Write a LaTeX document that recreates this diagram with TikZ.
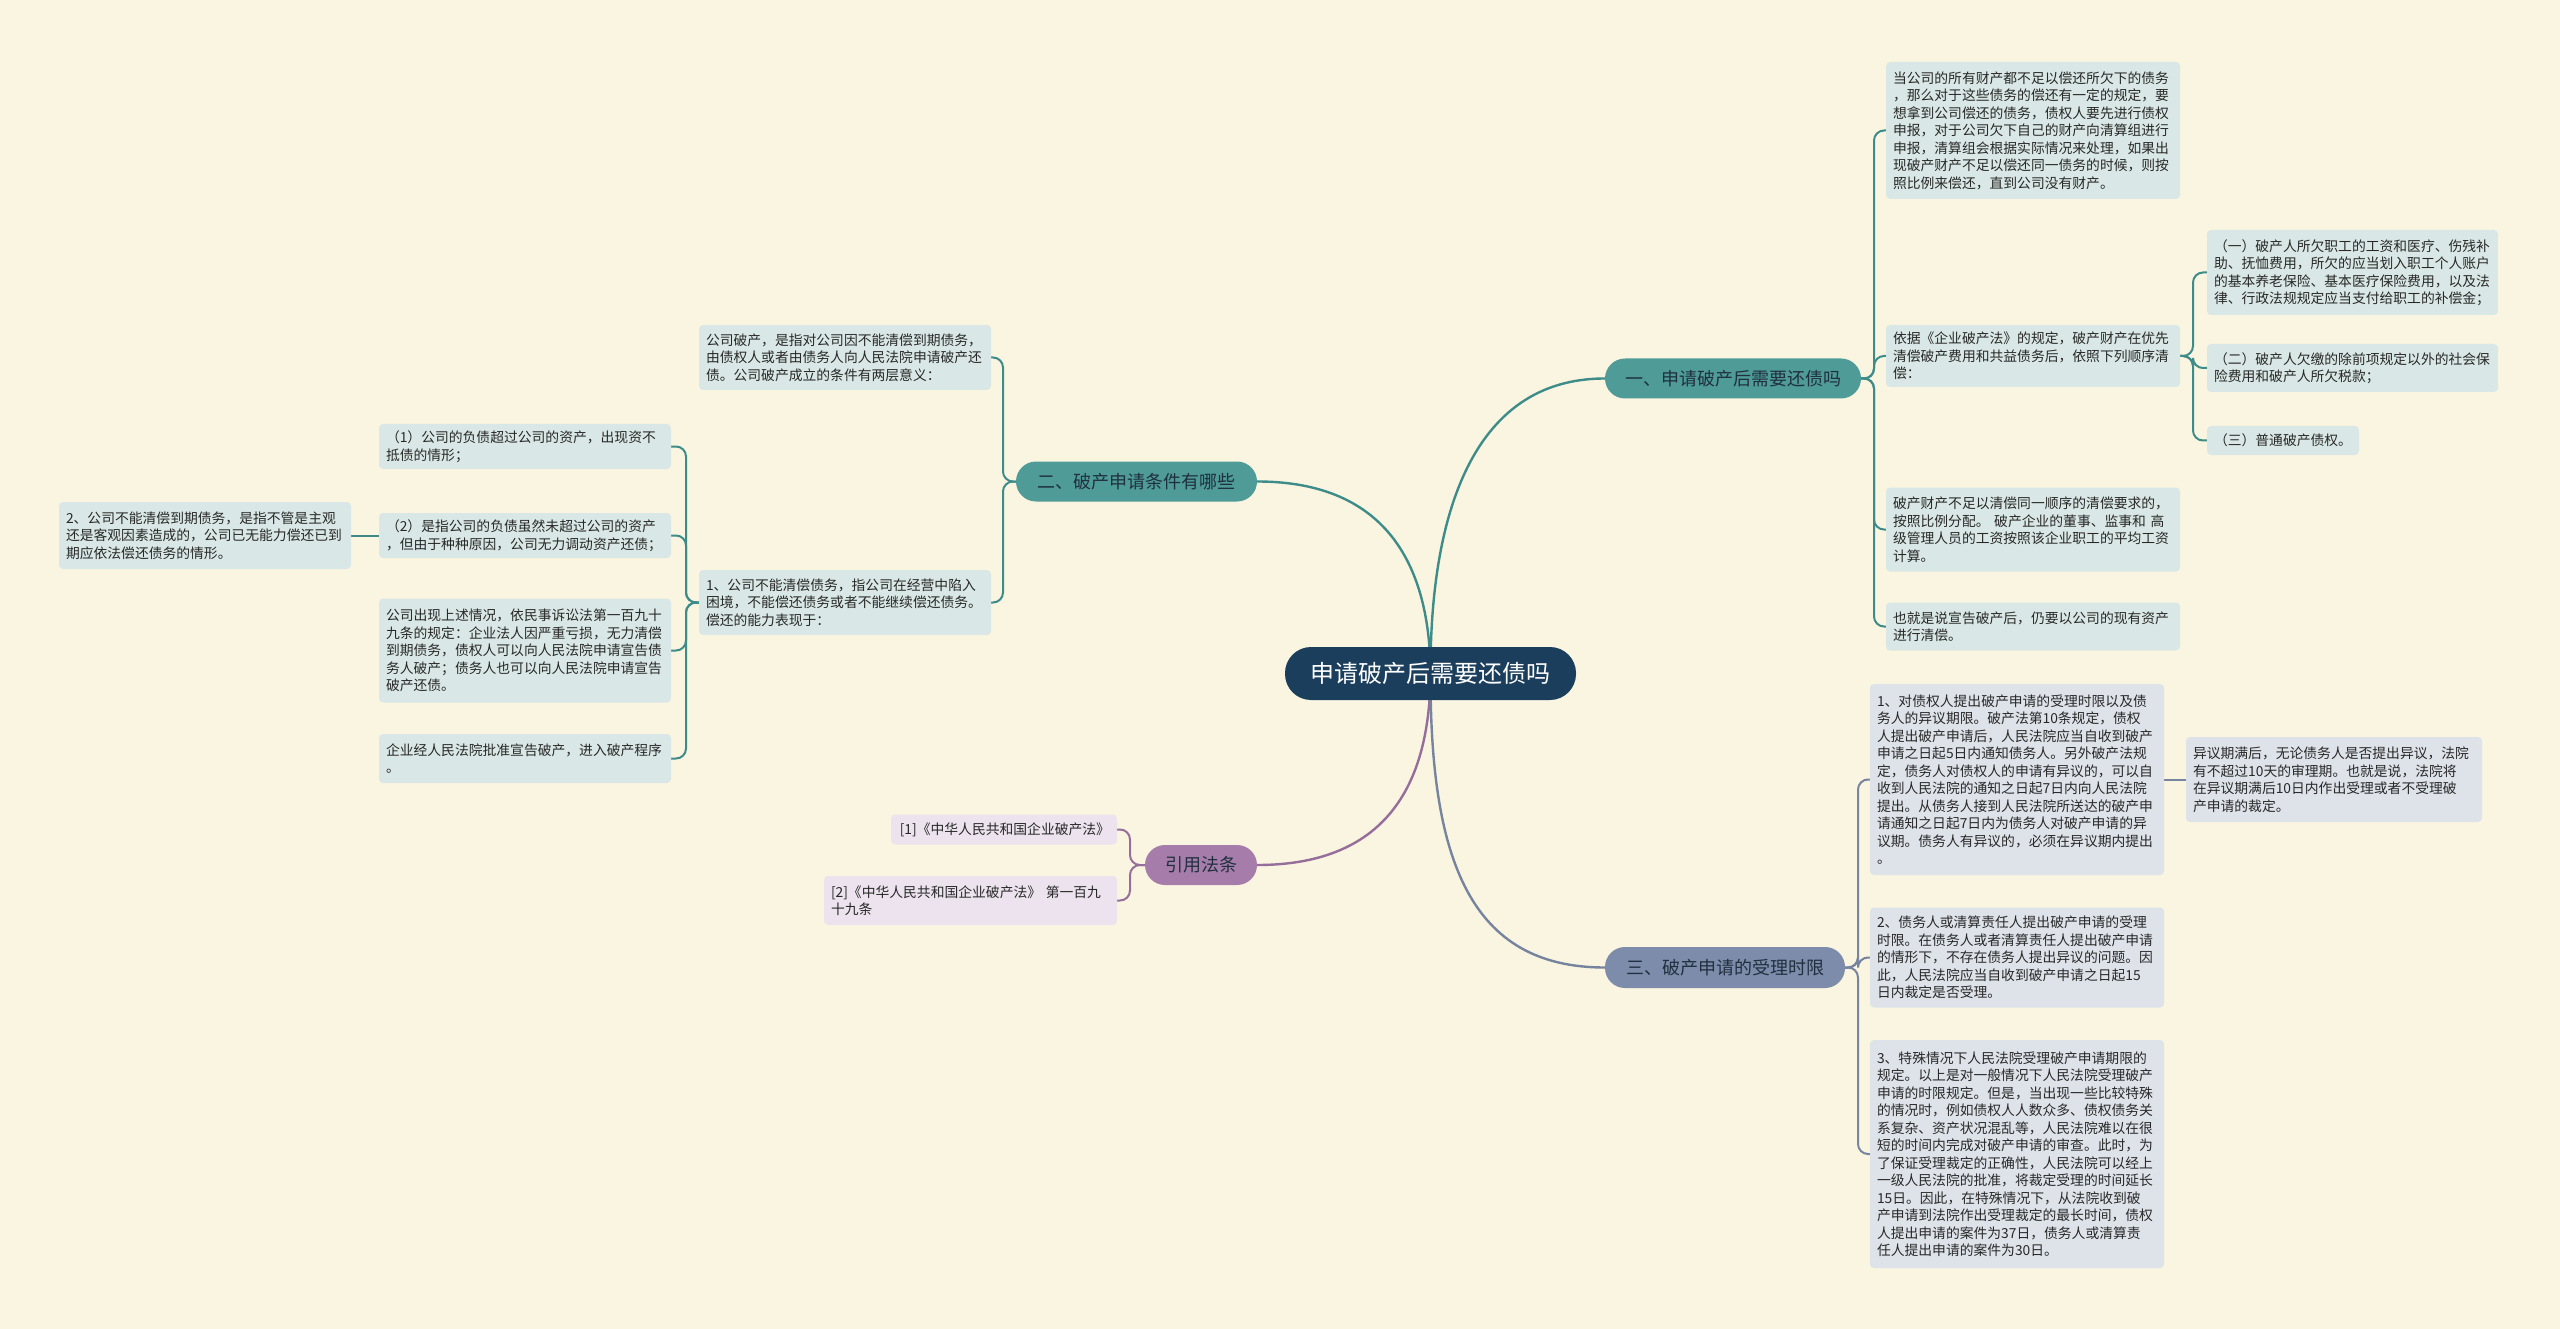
\documentclass[tikz,border=0pt]{standalone}
\usepackage{fontspec}
\setmainfont{Noto Sans CJK SC}
\usetikzlibrary{backgrounds}
\definecolor{bgc}{RGB}{250,245,224}
\definecolor{txt}{RGB}{40,40,40}
\definecolor{navy}{RGB}{26,62,92}
\definecolor{tealln}{RGB}{62,140,138}
\definecolor{tealpill}{RGB}{78,155,152}
\definecolor{tealbox}{RGB}{217,232,230}
\definecolor{purln}{RGB}{150,110,155}
\definecolor{purpill}{RGB}{166,125,170}
\definecolor{purbox}{RGB}{236,227,238}
\definecolor{slaln}{RGB}{118,132,160}
\definecolor{slapill}{RGB}{125,140,170}
\definecolor{slabox}{RGB}{222,227,234}
\definecolor{pilltxt}{RGB}{32,48,62}
\newcommand{\fsbody}{\fontsize{13.8}{17.5}\selectfont}
\newcommand{\fsbranch}{\fontsize{18}{22}\selectfont}
\newcommand{\fsroot}{\fontsize{24}{28}\selectfont}
\tikzset{
  tbox/.style={fill=#1, rounded corners=4pt, inner xsep=7pt, inner ysep=2pt, align=left, font=\fsbody, text=txt},
  pill/.style={fill=#1, rounded corners=20pt, inner sep=0pt, font=\fsbranch, text=pilltxt},
  conn/.style={draw=#1, line width=2pt, rounded corners=10pt},
  mainconn/.style={draw=#1, line width=2.4pt}
}
\begin{document}
\begin{tikzpicture}[x=1pt,y=-1pt]
\begin{pgfonlayer}{background}
\fill[bgc] (0,0) rectangle (2560,1329);
\end{pgfonlayer}
\useasboundingbox (0,0) rectangle (2560,1329);

% root
\node[fill=navy, rounded corners=26pt, minimum width=291pt, minimum height=53pt, inner sep=0pt, font=\fsroot, text=white] (root) at (1430.5,673.5) {申请破产后需要还债吗};

% branches
\node[pill=tealpill, minimum width=256pt, minimum height=40pt] (b1) at (1733,378.5) {一、申请破产后需要还债吗};
\node[pill=tealpill, minimum width=241pt, minimum height=40pt] (b2) at (1136.5,481.5) {二、破产申请条件有哪些};
\node[pill=purpill, minimum width=112pt, minimum height=40pt] (b3) at (1201,865) {引用法条};
\node[pill=slapill, minimum width=240pt, minimum height=41pt] (b4) at (1725,967.5) {三、破产申请的受理时限};

% branch 1 children
\node[tbox=tealbox, text width=280pt, minimum height=137pt] (R1) at (2033,130.5) {当公司的所有财产都不足以偿还所欠下的债务\\，那么对于这些债务的偿还有一定的规定，要\\想拿到公司偿还的债务，债权人要先进行债权\\申报，对于公司欠下自己的财产向清算组进行\\申报，清算组会根据实际情况来处理，如果出\\现破产财产不足以偿还同一债务的时候，则按\\照比例来偿还，直到公司没有财产。};
\node[tbox=tealbox, text width=280pt, minimum height=62pt] (R2) at (2033,356) {依据《企业破产法》的规定，破产财产在优先\\清偿破产费用和共益债务后，依照下列顺序清\\偿：};
\node[tbox=tealbox, text width=277pt, minimum height=85pt] (R2a) at (2352.5,272.5) {（一）破产人所欠职工的工资和医疗、伤残补\\助、抚恤费用，所欠的应当划入职工个人账户\\的基本养老保险、基本医疗保险费用，以及法\\律、行政法规规定应当支付给职工的补偿金；};
\node[tbox=tealbox, text width=277pt, minimum height=48pt] (R2b) at (2352.5,368) {（二）破产人欠缴的除前项规定以外的社会保\\险费用和破产人所欠税款；};
\node[tbox=tealbox, text width=138pt, minimum height=29pt] (R2c) at (2283,440.5) {（三）普通破产债权。};
\node[tbox=tealbox, text width=280pt, minimum height=84pt] (R3) at (2033,529.5) {破产财产不足以清偿同一顺序的清偿要求的，\\按照比例分配。~破产企业的董事、监事和~高\\级管理人员的工资按照该企业职工的平均工资\\计算。};
\node[tbox=tealbox, text width=280pt, minimum height=48pt] (R4) at (2033,626.5) {也就是说宣告破产后，仍要以公司的现有资产\\进行清偿。};

% branch 2 children
\node[tbox=tealbox, text width=278pt, minimum height=65pt] (L1) at (845,357.5) {公司破产，是指对公司因不能清偿到期债务，\\由债权人或者由债务人向人民法院申请破产还\\债。公司破产成立的条件有两层意义：};
\node[tbox=tealbox, text width=278pt, minimum height=65pt] (L2) at (845,602.5) {1、公司不能清偿债务，指公司在经营中陷入\\困境，不能偿还债务或者不能继续偿还债务。\\偿还的能力表现于：};
\node[tbox=tealbox, text width=278pt, minimum height=45pt] (L2a) at (525,446.5) {（1）公司的负债超过公司的资产，出现资不\\抵债的情形；};
\node[tbox=tealbox, text width=278pt, minimum height=45pt] (L2b) at (525,535.5) {（2）是指公司的负债虽然未超过公司的资产\\，但由于种种原因，公司无力调动资产还债；};
\node[tbox=tealbox, text width=278pt, minimum height=67pt] (L2bc) at (205,535.5) {2、公司不能清偿到期债务，是指不管是主观\\还是客观因素造成的，公司已无能力偿还已到\\期应依法偿还债务的情形。};
\node[tbox=tealbox, text width=278pt, minimum height=104pt] (L2c) at (525,650.5) {公司出现上述情况，依民事诉讼法第一百九十\\九条的规定：企业法人因严重亏损，无力清偿\\到期债务，债权人可以向人民法院申请宣告债\\务人破产；债务人也可以向人民法院申请宣告\\破产还债。};
\node[tbox=tealbox, text width=278pt, minimum height=49pt] (L2d) at (525,758.5) {企业经人民法院批准宣告破产，进入破产程序\\。};

% branch 3 children
\node[tbox=purbox, text width=212pt, minimum height=30pt, align=right] (P1) at (1004,829.5) {[1]《中华人民共和国企业破产法》};
\node[tbox=purbox, text width=279pt, minimum height=49pt] (P2) at (970.5,900.5) {[2]《中华人民共和国企业破产法》~第一百九\\十九条};

% branch 4 children
\node[tbox=slabox, text width=280pt, minimum height=191pt] (S1) at (2017,779.5) {1、对债权人提出破产申请的受理时限以及债\\务人的异议期限。破产法第10条规定，债权\\人提出破产申请后，人民法院应当自收到破产\\申请之日起5日内通知债务人。另外破产法规\\定，债务人对债权人的申请有异议的，可以自\\收到人民法院的通知之日起7日内向人民法院\\提出。从债务人接到人民法院所送达的破产申\\请通知之日起7日内为债务人对破产申请的异\\议期。债务人有异议的，必须在异议期内提出\\。};
\node[tbox=slabox, text width=282pt, minimum height=85pt] (S1a) at (2334,779.5) {异议期满后，无论债务人是否提出异议，法院\\有不超过10天的审理期。也就是说，法院将\\在异议期满后10日内作出受理或者不受理破\\产申请的裁定。};
\node[tbox=slabox, text width=280pt, minimum height=100pt] (S2) at (2017,957.5) {2、债务人或清算责任人提出破产申请的受理\\时限。在债务人或者清算责任人提出破产申请\\的情形下，不存在债务人提出异议的问题。因\\此，人民法院应当自收到破产申请之日起15\\日内裁定是否受理。};
\node[tbox=slabox, text width=280pt, minimum height=228pt] (S3) at (2017,1154) {3、特殊情况下人民法院受理破产申请期限的\\规定。以上是对一般情况下人民法院受理破产\\申请的时限规定。但是，当出现一些比较特殊\\的情况时，例如债权人人数众多、债权债务关\\系复杂、资产状况混乱等，人民法院难以在很\\短的时间内完成对破产申请的审查。此时，为\\了保证受理裁定的正确性，人民法院可以经上\\一级人民法院的批准，将裁定受理的时间延长\\15日。因此，在特殊情况下，从法院收到破\\产申请到法院作出受理裁定的最长时间，债权\\人提出申请的案件为37日，债务人或清算责\\任人提出申请的案件为30日。};

\begin{pgfonlayer}{background}
% root to branches
\draw[mainconn=tealln] (root.center) .. controls (1430,520) and (1470,378.5) .. (b1.west);
\draw[mainconn=tealln] (root.center) .. controls (1430,570) and (1390,481.5) .. (b2.east);
\draw[mainconn=purln] (root.center) .. controls (1430,780) and (1390,865) .. (b3.east);
\draw[mainconn=slaln] (root.center) .. controls (1430,860) and (1470,967.5) .. (b4.west);
% branch 1
\foreach \c in {R1,R2,R3,R4}
  \draw[conn=tealln] (b1.east) -- (1874,378.5) |- (\c.west);
\foreach \c in {R2a,R2b,R2c}
  \draw[conn=tealln] (R2.east) -- (2193,356) |- (\c.west);
% branch 2
\foreach \c in {L1,L2}
  \draw[conn=tealln] (b2.west) -- (1003,481.5) |- (\c.east);
\foreach \c in {L2a,L2b,L2c,L2d}
  \draw[conn=tealln] (L2.west) -- (686,602.5) |- (\c.east);
\draw[conn=tealln] (L2b.west) -- (L2bc.east);
% branch 3
\foreach \c in {P1,P2}
  \draw[conn=purln] (b3.west) -- (1130,865) |- (\c.east);
% branch 4
\foreach \c in {S1,S2,S3}
  \draw[conn=slaln] (b4.east) -- (1858,967.5) |- (\c.west);
\draw[conn=slaln] (S1.east) -- (S1a.west);
\end{pgfonlayer}
\end{tikzpicture}
\end{document}
